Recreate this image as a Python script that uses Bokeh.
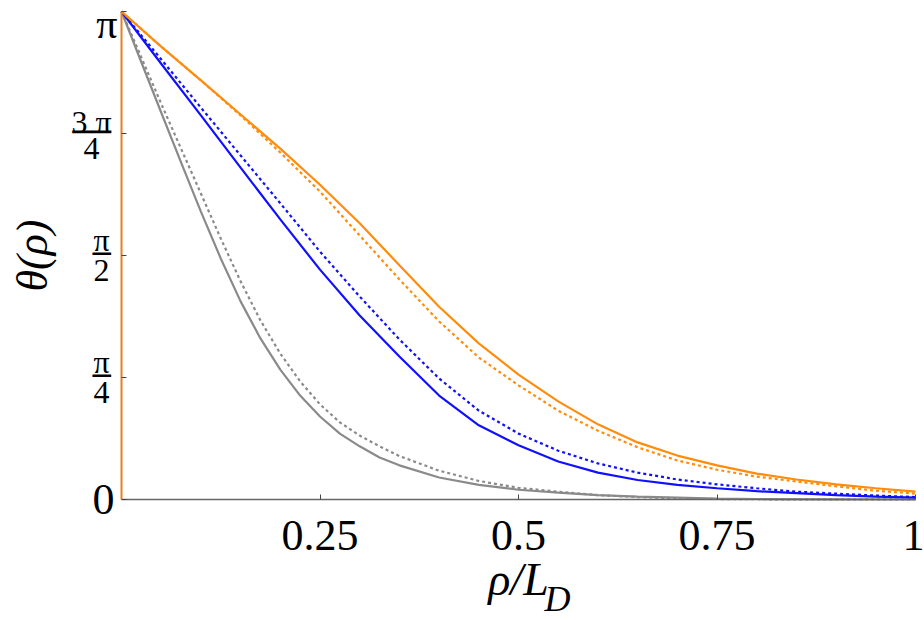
from bokeh.plotting import figure
from bokeh.models import Range1d, FixedTicker, Label
from bokeh.embed import file_html
from bokeh.resources import INLINE

# ---- data: x = rho/L_D, y = theta/pi ----
gray_solid_x = [0, 0.025, 0.05, 0.075, 0.1, 0.125, 0.15, 0.175, 0.2, 0.225, 0.25, 0.275, 0.3,
                0.325, 0.35, 0.4, 0.45, 0.5, 0.55, 0.6, 0.65, 0.7, 0.75, 0.8, 0.9, 1.0]
gray_solid_y = [1.0, 0.896, 0.793, 0.691, 0.590, 0.494, 0.406, 0.330, 0.266, 0.213, 0.170,
                0.135, 0.109, 0.086, 0.070, 0.045, 0.030, 0.020, 0.014, 0.009, 0.006, 0.004,
                0.002, 0.001, 0.0003, 0.0]

gray_dot_x = [0, 0.025, 0.05, 0.075, 0.1, 0.125, 0.15, 0.175, 0.2, 0.225, 0.25, 0.275, 0.3,
              0.325, 0.35, 0.4, 0.45, 0.5, 0.55, 0.6, 0.65, 0.7, 0.75, 0.8, 0.9, 1.0]
gray_dot_y = [1.0, 0.906, 0.811, 0.719, 0.627, 0.535, 0.447, 0.367, 0.299, 0.242, 0.195,
              0.158, 0.131, 0.109, 0.089, 0.059, 0.038, 0.024, 0.016, 0.009, 0.005, 0.0025,
              0.001, 0.0005, 0.0002, 0.0]

blue_solid_x = [0, 0.05, 0.1, 0.15, 0.2, 0.25, 0.3, 0.35, 0.4, 0.45, 0.5, 0.55, 0.6, 0.65,
                0.7, 0.75, 0.8, 0.85, 0.9, 0.95, 1.0]
blue_solid_y = [1.0, 0.893, 0.787, 0.680, 0.574, 0.471, 0.377, 0.293, 0.213, 0.152, 0.111,
                0.078, 0.055, 0.040, 0.030, 0.023, 0.017, 0.013, 0.009, 0.006, 0.004]

blue_dot_x = [0, 0.05, 0.1, 0.15, 0.2, 0.25, 0.3, 0.35, 0.4, 0.45, 0.5, 0.55, 0.6, 0.65,
              0.7, 0.75, 0.8, 0.85, 0.9, 0.95, 1.0]
blue_dot_y = [1.0, 0.902, 0.803, 0.705, 0.607, 0.508, 0.416, 0.328, 0.248, 0.182, 0.135,
              0.100, 0.074, 0.055, 0.041, 0.031, 0.023, 0.016, 0.012, 0.008, 0.005]

orange_solid_x = [0, 0.05, 0.1, 0.15, 0.2, 0.25, 0.3, 0.35, 0.4, 0.45, 0.5, 0.55, 0.6, 0.65,
                  0.7, 0.75, 0.8, 0.85, 0.9, 0.95, 1.0]
orange_solid_y = [1.0, 0.928, 0.859, 0.789, 0.719, 0.645, 0.566, 0.480, 0.395, 0.320, 0.256,
                  0.201, 0.154, 0.117, 0.090, 0.070, 0.053, 0.041, 0.031, 0.023, 0.016]

orange_dot_x = [0, 0.05, 0.1, 0.15, 0.2, 0.25, 0.3, 0.35, 0.4, 0.45, 0.5, 0.55, 0.6, 0.65,
                0.7, 0.75, 0.8, 0.85, 0.9, 0.95, 1.0]
orange_dot_y = [1.0, 0.928, 0.859, 0.787, 0.711, 0.631, 0.541, 0.451, 0.365, 0.291, 0.234,
                0.182, 0.141, 0.107, 0.080, 0.061, 0.047, 0.037, 0.027, 0.018, 0.012]

x_ticks = [0.25, 0.5, 0.75, 1.0]
x_tick_labels = ["0.25", "0.5", "0.75", "1"]
y_ticks = [0, 0.25, 0.5, 0.75, 1.0]
# labels of the y ticks: (value, numerator, denominator)
y_fracs = [(0.75, "3 π", "4"), (0.5, "π", "2"), (0.25, "π", "4")]

SERIF = "Liberation Serif"
ORANGE = "#ff8c0a"
BLUE = "#1010ff"
GRAY = "#8a8a8a"

# frame fills the whole canvas; the axes are pinned at x=0 / y=0 inside it
W, H = 924, 620
PX_X, PX_Y = 794.0, 488.0          # pixels per data unit
LEFT, RIGHT, TOP, BOTTOM = 121, 9, 11, 121
p = figure(width=W, height=H,
           x_range=Range1d(-LEFT / PX_X, 1 + RIGHT / PX_X),
           y_range=Range1d(-BOTTOM / PX_Y, 1 + TOP / PX_Y),
           output_backend="svg", toolbar_location=None,
           min_border_left=0, min_border_right=0, min_border_top=0, min_border_bottom=0)
p.outline_line_color = None
p.xgrid.grid_line_color = None
p.ygrid.grid_line_color = None
p.background_fill_color = "white"
p.border_fill_color = "white"

lw = 2.2
p.line(gray_solid_x, gray_solid_y, line_color=GRAY, line_width=lw)
p.line(gray_dot_x, gray_dot_y, line_color=GRAY, line_width=lw, line_dash="3 3")
p.line(blue_solid_x, blue_solid_y, line_color=BLUE, line_width=lw)
p.line(blue_dot_x, blue_dot_y, line_color=BLUE, line_width=lw, line_dash="3 3")
p.line(orange_solid_x, orange_solid_y, line_color=ORANGE, line_width=lw)
p.line(orange_dot_x, orange_dot_y, line_color=ORANGE, line_width=lw, line_dash="3 3")

# x axis
xa = p.xaxis[0]
xa.fixed_location = 0
xa.bounds = (0, 1)
xa.ticker = FixedTicker(ticks=x_ticks)
xa.major_label_overrides = {t: s for t, s in zip(x_ticks, x_tick_labels)}
xa.major_label_text_font = SERIF
xa.major_label_text_font_size = "44px"
xa.major_label_text_color = "black"
xa.major_label_standoff = 21
xa.axis_line_color = "#666666"
xa.axis_line_width = 1.6
xa.major_tick_in = 5
xa.major_tick_out = 0
xa.major_tick_line_color = "#444444"
xa.minor_tick_line_color = None
xa.axis_label = "ρ/L"
xa.axis_label_text_font = SERIF
xa.axis_label_text_font_style = "italic"
xa.axis_label_text_font_size = "46px"
xa.axis_label_text_color = "black"
xa.axis_label_standoff = 1

# y axis
ya = p.yaxis[0]
ya.fixed_location = 0
ya.bounds = (0, 1)
ya.ticker = FixedTicker(ticks=y_ticks)
ya.major_label_overrides = {0: "0", 0.25: " ", 0.5: " ", 0.75: " ", 1: " "}
ya.major_label_text_font = SERIF
ya.major_label_text_font_size = "44px"
ya.major_label_text_color = "black"
ya.major_label_standoff = 7
ya.axis_line_color = "#e8801e"
ya.axis_line_width = 2
ya.major_tick_in = 5
ya.major_tick_out = 0
ya.major_tick_line_color = "#444444"
ya.minor_tick_line_color = None
ya.axis_label = "θ(ρ)"
ya.axis_label_text_font = SERIF
ya.axis_label_text_font_style = "italic"
ya.axis_label_text_font_size = "44px"
ya.axis_label_text_color = "black"
ya.axis_label_standoff = 33

# top tick label (pi), kept fully inside the picture
p.add_layout(Label(x=0, y=1, x_offset=-4, y_offset=-12, text="π",
                   text_font=SERIF, text_font_size="42px", text_align="right",
                   text_baseline="middle", text_color="black"))

# subscript D of the x axis label
p.add_layout(Label(x=0.5, y=0, x_offset=26, y_offset=-99, text="D",
                   text_font=SERIF, text_font_style="italic", text_font_size="36px",
                   text_align="left", text_baseline="middle", text_color="black"))

# fraction tick labels
for val, num, den in y_fracs:
    big = num.startswith("3")
    cx = -30 if big else -20
    p.add_layout(Label(x=0, y=val, x_offset=cx, y_offset=12 if big else 16, text=num,
                       text_font=SERIF, text_font_size="32px", text_align="center",
                       text_baseline="middle", text_color="black"))
    p.add_layout(Label(x=0, y=val, x_offset=cx, y_offset=-15, text=den,
                       text_font=SERIF, text_font_size="32px", text_align="center",
                       text_baseline="middle", text_color="black"))
    p.add_layout(Label(x=0, y=val, x_offset=cx, y_offset=2, text="──" if big else "─",
                       text_font="DejaVu Sans Mono", text_font_size="32px" if big else "30px",
                       text_align="center", text_baseline="middle", text_color="black"))

open("out.html", "w").write(file_html(p, INLINE))
